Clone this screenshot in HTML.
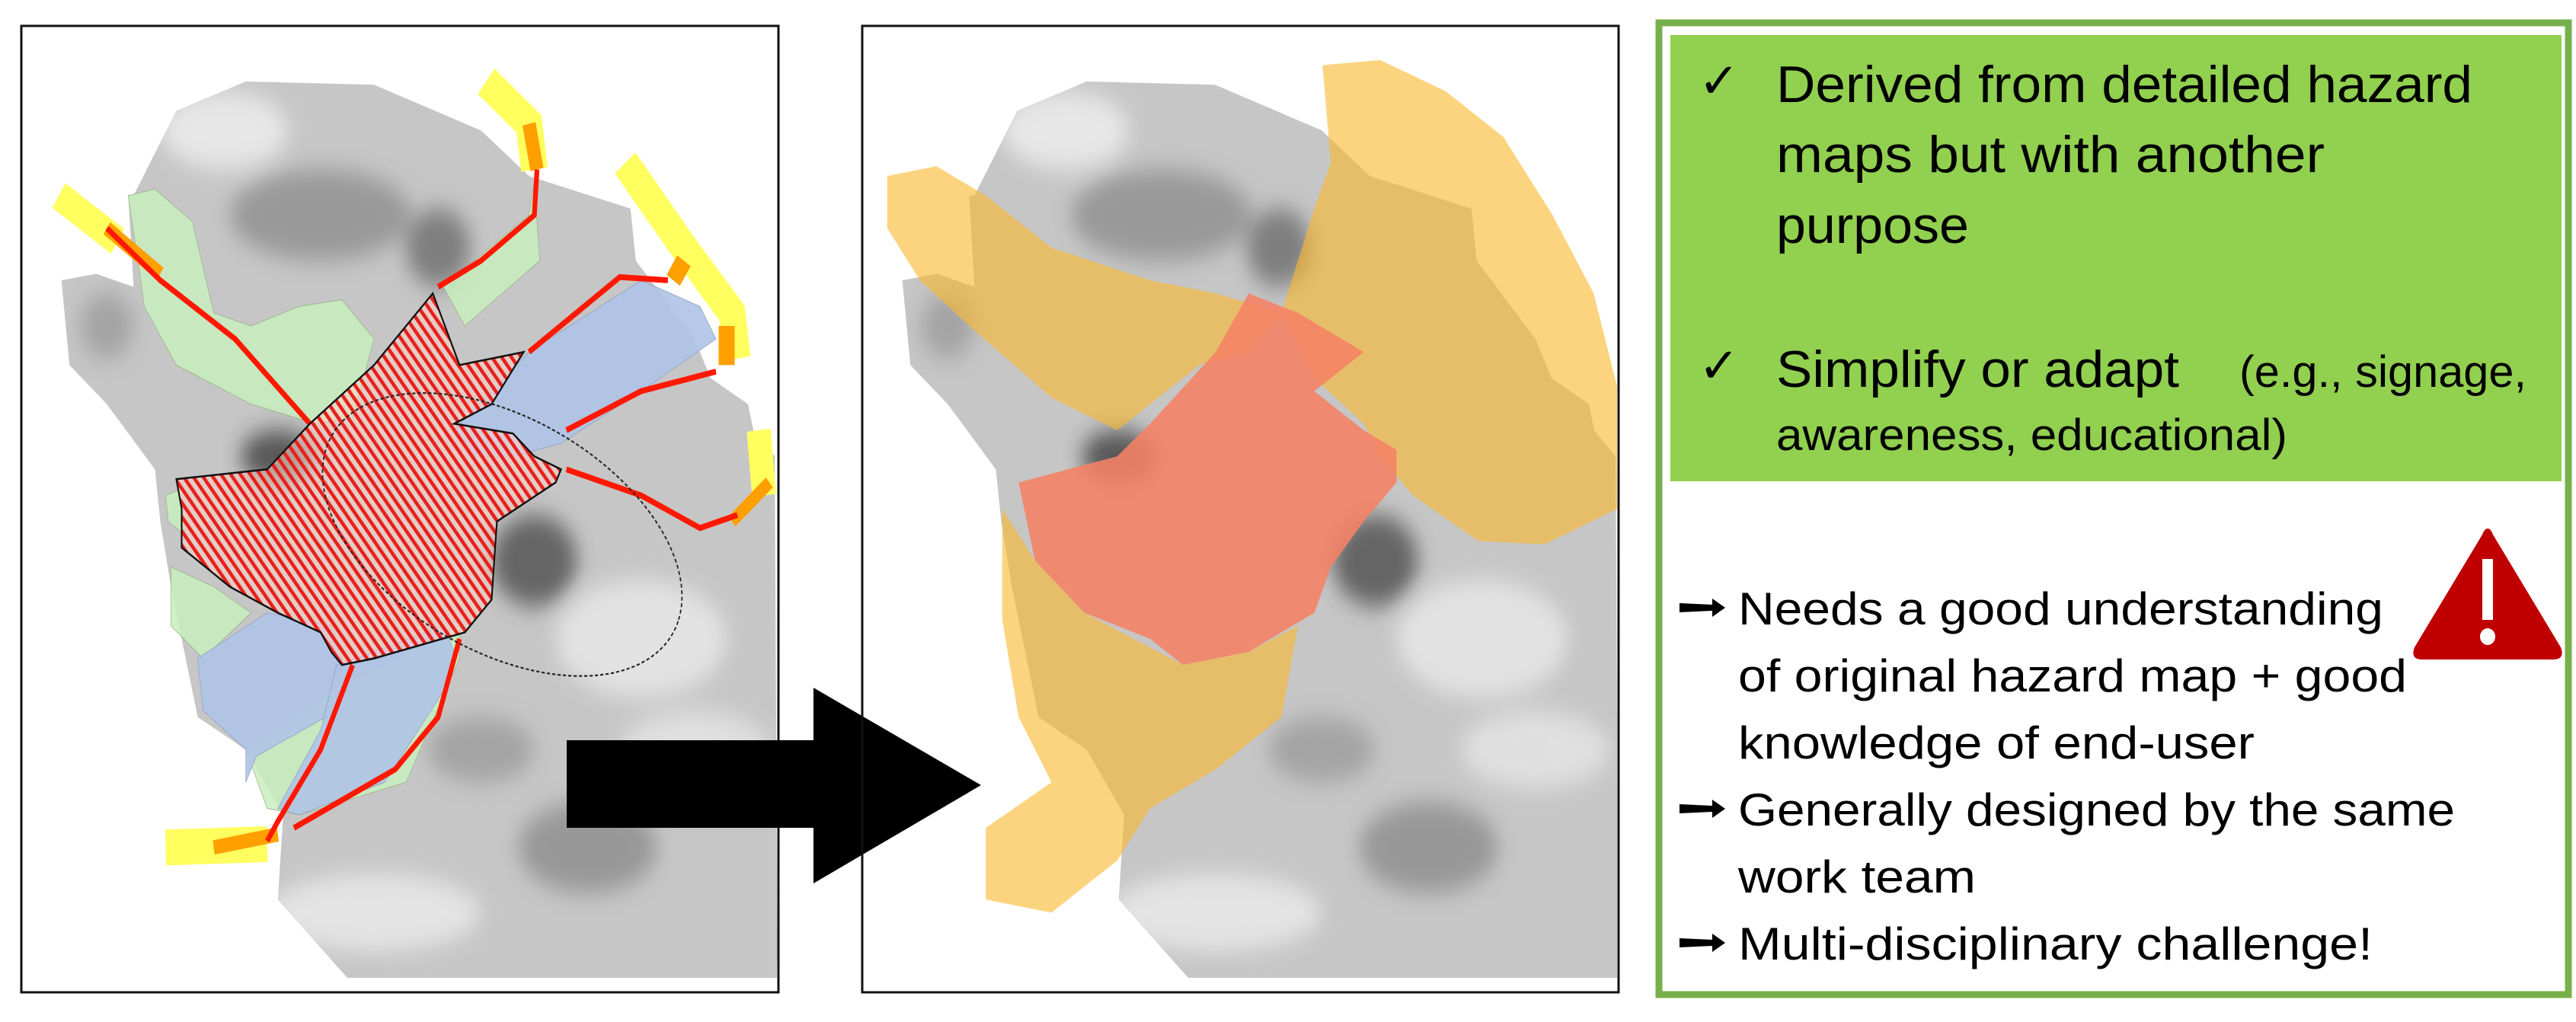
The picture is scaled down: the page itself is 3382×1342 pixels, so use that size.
<!DOCTYPE html>
<html><head><meta charset="utf-8"><title>Hazard map simplification</title>
<style>html,body{margin:0;padding:0;background:#fff}svg{display:block}</style></head>
<body>
<svg width="3382" height="1342" viewBox="0 0 3382 1342" xmlns="http://www.w3.org/2000/svg">
<defs>
  <pattern id="hatch" width="14" height="14" patternUnits="userSpaceOnUse" patternTransform="rotate(-40)">
    <rect width="14" height="14" fill="rgba(255,210,200,0.55)"/>
    <rect width="6" height="14" fill="#e8201a"/>
  </pattern>
  <filter id="blur"><feGaussianBlur stdDeviation="18"/></filter>
  <clipPath id="terrainClip">
    <polygon points="250,300 330,170 460,125 700,130 900,200 990,270 1180,320 1190,400 1300,520 1330,580 1400,620 1410,660 1450,700 1455,1500 650,1500 520,1380 530,1250 460,1150 370,1100 320,900 300,800 290,720 200,620 130,560 115,430 180,420 250,440 240,300"/>
  </clipPath>
  <g id="terrain">
    <polygon points="250,300 330,170 460,125 700,130 900,200 990,270 1180,320 1190,400 1300,520 1330,580 1400,620 1410,660 1450,700 1455,1500 650,1500 520,1380 530,1250 460,1150 370,1100 320,900 300,800 290,720 200,620 130,560 115,430 180,420 250,440 240,300" fill="#c6c6c6"/>
    <g clip-path="url(#terrainClip)" filter="url(#blur)" opacity="0.75">
      <ellipse cx="600" cy="330" rx="170" ry="70" fill="#8a8a8a"/>
      <ellipse cx="820" cy="380" rx="60" ry="60" fill="#666"/>
      <ellipse cx="1000" cy="860" rx="80" ry="70" fill="#444"/>
      <ellipse cx="520" cy="700" rx="70" ry="40" fill="#333"/>
      <ellipse cx="1100" cy="1300" rx="130" ry="70" fill="#888"/>
      <ellipse cx="420" cy="200" rx="120" ry="60" fill="#f2f2f2"/>
      <ellipse cx="1200" cy="980" rx="160" ry="90" fill="#ececec"/>
      <ellipse cx="700" cy="1400" rx="200" ry="60" fill="#eee"/>
      <ellipse cx="1300" cy="1150" rx="140" ry="60" fill="#e8e8e8"/>
      <ellipse cx="200" cy="500" rx="50" ry="50" fill="#999"/>
      <ellipse cx="900" cy="1150" rx="100" ry="50" fill="#999"/>
    </g>
  </g>
</defs>

<g>
  <rect x="28" y="34" width="994" height="1269" fill="#fff" stroke="#111" stroke-width="3"/>
  <g transform="scale(0.7015,0.856)">
    <use href="#terrain"/>
    <g fill="rgba(200,238,190,0.85)" stroke="#9ab08a" stroke-width="1">
      <polygon points="240,300 290,290 360,340 400,480 470,500 560,470 640,460 700,520 660,640 590,650 470,620 330,560 270,470 265,440"/>
      <polygon points="830,440 990,330 1000,280 1010,400 870,500"/>
      <polygon points="310,760 340,750 345,820 315,800"/>
      <polygon points="320,870 400,900 470,940 380,1010 320,960"/>
      <polygon points="460,1150 620,1060 860,960 860,1010 760,1200 560,1250 500,1240"/>
    </g>
    <g fill="rgba(175,195,230,0.9)" stroke="#8ea0c0" stroke-width="1">
      <polygon points="850,660 990,540 1200,430 1310,470 1340,520 1200,600 1050,680 960,700 890,700"/>
      <polygon points="370,1010 500,940 620,960 640,1010 610,1100 480,1160 460,1200 460,1150 380,1090"/>
      <polygon points="630,1020 700,1000 830,960 850,1000 830,1060 720,1200 560,1250 520,1240 600,1120"/>
    </g>
    <g fill="none" stroke-linecap="butt">
      <path d="M110,300 L220,370" stroke="#ffff60" stroke-width="45"/>
      <path d="M200,350 L300,420" stroke="#ffa000" stroke-width="22"/>
      <path d="M910,125 L990,190 L1000,260" stroke="#ffff60" stroke-width="50"/>
      <path d="M990,190 L1005,260" stroke="#ffa000" stroke-width="25"/>
      <path d="M1170,250 L1280,380 L1370,480 L1380,550" stroke="#ffff60" stroke-width="50"/>
      <path d="M1280,400 L1260,430 M1360,500 L1360,560" stroke="#ffa000" stroke-width="30"/>
      <path d="M1420,660 L1430,760" stroke="#ffff60" stroke-width="45"/>
      <path d="M1440,740 L1370,800" stroke="#ffa000" stroke-width="20"/>
      <path d="M310,1300 L500,1295" stroke="#ffff60" stroke-width="55"/>
      <path d="M400,1300 L520,1280" stroke="#ffa000" stroke-width="22"/>
    </g>
    <g fill="none" stroke="#ff1800" stroke-width="9" stroke-linejoin="round">
      <polyline points="200,350 300,430 440,520 580,650"/>
      <polyline points="1005,260 1000,330 900,400 820,440"/>
      <polyline points="1250,430 1160,425 990,540"/>
      <polyline points="1340,570 1200,600 1060,660"/>
      <polyline points="1060,720 1200,760 1310,810 1380,790"/>
      <polyline points="660,1020 600,1150 520,1260 500,1290"/>
      <polyline points="860,980 820,1100 740,1180 550,1270"/>
    </g>
    <polygon points="330,735 500,720 580,650 700,560 810,450 860,560 980,540 920,620 850,650 960,665 1000,700 1050,720 1040,740 930,800 920,920 870,970 700,1010 640,1020 620,1000 600,970 520,940 430,900 340,840 340,780" fill="url(#hatch)" stroke="#111" stroke-width="3"/>
    <ellipse cx="940" cy="820" rx="355" ry="185" transform="rotate(22 940 820)" fill="none" stroke="#222" stroke-width="2.5" stroke-dasharray="6 4"/>
  </g>
</g>

<g>
  <rect x="744" y="972" width="330" height="115" fill="#000"/>
  <polygon points="1068,903 1288,1031 1068,1160" fill="#000"/>
</g>

<g>
  <rect x="1132" y="34" width="993" height="1269" fill="none" stroke="#111" stroke-width="3"/>
  <svg x="1134" y="36" width="989" height="1265" viewBox="1134 36 989 1265">
    <g transform="translate(1104,0) scale(0.7015,0.856)"><use href="#terrain"/></g>
    <g transform="scale(2.157,0.856)">
      <polygon points="805,100 840,92 880,140 915,210 945,330 970,450 985,600 985,780 940,835 900,830 860,760 840,700 830,650 800,580 780,480 800,320 810,250" fill="rgba(250,185,50,0.62)"/>
      <polygon points="540,270 570,255 600,300 640,380 700,430 740,450 780,480 760,540 730,560 700,620 680,660 640,610 590,500 560,430 540,350" fill="rgba(250,185,50,0.62)"/>
      <polygon points="610,780 630,860 660,940 720,1020 760,1000 790,960 780,1100 740,1180 700,1240 680,1320 640,1400 600,1380 600,1270 640,1200 620,1100 610,950" fill="rgba(250,185,50,0.62)"/>
      <polygon points="620,740 680,700 700,650 740,540 760,450 790,480 830,540 800,600 830,660 850,690 850,740 830,800 810,870 800,940 760,1000 720,1020 700,980 660,940 630,860" fill="rgba(245,130,100,0.88)"/>
    </g>
  </svg>
</g>

<g>
  <rect x="2178" y="30" width="1194" height="1276" fill="#fff" stroke="#76b04a" stroke-width="9"/>
  <rect x="2193" y="46" width="1170" height="586" fill="#92d050"/>
  <g font-family="'Liberation Sans', sans-serif" fill="#000">
    <text x="2230" y="128" font-size="64">✓</text>
    <text x="2332" y="134" font-size="68" textLength="914" lengthAdjust="spacingAndGlyphs">Derived from detailed hazard</text>
    <text x="2332" y="226" font-size="68" textLength="720" lengthAdjust="spacingAndGlyphs">maps but with another</text>
    <text x="2332" y="319" font-size="68" textLength="253" lengthAdjust="spacingAndGlyphs">purpose</text>
    <text x="2230" y="502" font-size="64">✓</text>
    <text x="2332" y="508" font-size="68" textLength="529" lengthAdjust="spacingAndGlyphs">Simplify or adapt</text>
    <text x="2940" y="508" font-size="58" textLength="377" lengthAdjust="spacingAndGlyphs">(e.g., signage,</text>
    <text x="2332" y="591" font-size="58" textLength="671" lengthAdjust="spacingAndGlyphs">awareness, educational)</text>

    <text x="2282" y="820" font-size="60" textLength="847" lengthAdjust="spacingAndGlyphs">Needs a good understanding</text>
    <text x="2282" y="908" font-size="60" textLength="878" lengthAdjust="spacingAndGlyphs">of original hazard map + good</text>
    <text x="2282" y="996" font-size="60" textLength="678" lengthAdjust="spacingAndGlyphs">knowledge of end-user</text>
    <text x="2282" y="1084" font-size="60" textLength="941" lengthAdjust="spacingAndGlyphs">Generally designed by the same</text>
    <text x="2282" y="1172" font-size="60" textLength="312" lengthAdjust="spacingAndGlyphs">work team</text>
    <text x="2282" y="1260" font-size="60" textLength="833" lengthAdjust="spacingAndGlyphs">Multi-disciplinary challenge!</text>
  </g>
  <g fill="#000">
    <path d="M2205,792 L2248,794 L2248,786 L2265,798 L2248,810 L2248,802 L2205,804 Z"/>
    <path d="M2205,1056 L2248,1058 L2248,1050 L2265,1062 L2248,1074 L2248,1066 L2205,1068 Z"/>
    <path d="M2205,1232 L2248,1234 L2248,1226 L2265,1238 L2248,1250 L2248,1242 L2205,1244 Z"/>
  </g>
  <g>
    <path d="M3266,694 Q3270,694 3273,702 L3362,850 Q3368,866 3352,866 L3180,866 Q3164,866 3170,850 L3259,702 Q3262,694 3266,694 Z" fill="#c00000"/>
    <rect x="3259" y="734" width="14" height="80" fill="#fff"/>
    <ellipse cx="3266" cy="836" rx="10" ry="11" fill="#fff"/>
  </g>
</g>
</svg>
</body></html>
